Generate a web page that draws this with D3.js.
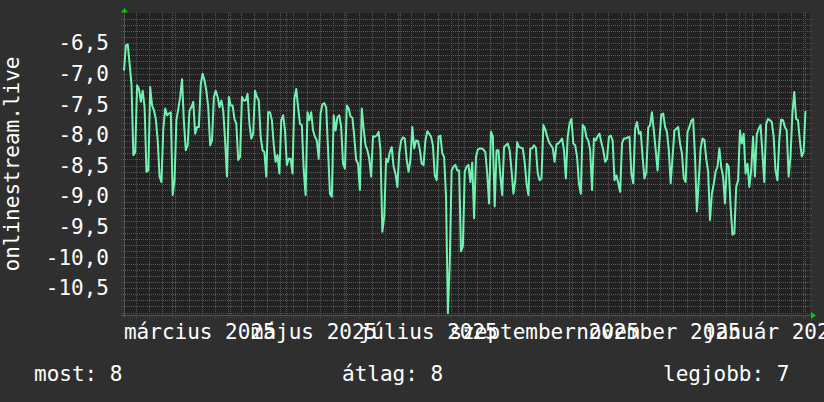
<!DOCTYPE html>
<html>
<head>
<meta charset="utf-8">
<script src="https://cdn.jsdelivr.net/npm/d3@7"></script>
<style>
    body { margin: 0; background: #2f2f2f; }
    text { font-family: "DejaVu Sans Mono", monospace; }
</style>
</head>
<body>
<svg id="chart" width="824" height="402"></svg>
<script>
// daily values, first day 2025-02-03 (noon)
const firstDay = new Date(2025, 1, 3, 12);
const rankValues = [
    -6.95, -6.54, -6.52, -6.84, -7.17, -8.33, -8.28, -7.19, -7.25, -7.46,
    -7.28, -7.55, -8.60, -8.58, -7.22, -7.52, -7.60, -7.74, -8.09, -8.68,
    -8.77, -7.90, -7.57, -7.68, -7.65, -7.63, -8.98, -8.74, -7.76, -7.57,
    -7.38, -7.09, -7.79, -8.25, -8.17, -7.60, -7.55, -7.46, -7.98, -7.87,
    -7.87, -7.17, -7.00, -7.11, -7.28, -7.55, -8.17, -8.09, -7.38, -7.28,
    -7.38, -7.55, -7.44, -7.60, -8.09, -8.68, -7.38, -7.52, -7.52, -7.74,
    -7.82, -8.41, -8.36, -7.38, -7.44, -7.44, -7.33, -7.82, -8.06, -7.98,
    -7.28, -7.38, -7.44, -8.03, -8.25, -8.28, -8.68, -7.63, -7.63, -7.76,
    -8.17, -8.44, -8.33, -8.63, -7.76, -7.68, -7.93, -8.49, -8.39, -8.39,
    -8.63, -7.41, -7.25, -7.55, -7.82, -7.84, -8.58, -8.98, -7.63, -7.76,
    -7.63, -7.93, -8.03, -8.09, -8.39, -7.65, -7.50, -7.48, -7.55, -8.25,
    -8.96, -9.01, -7.68, -7.93, -7.71, -7.68, -7.87, -8.47, -8.55, -7.52,
    -7.57, -7.70, -7.72, -8.03, -8.41, -8.47, -8.90, -7.57, -7.90, -8.17,
    -8.25, -8.39, -8.68, -8.02, -8.03, -8.01, -7.95, -8.25, -9.58, -9.33,
    -8.39, -8.44, -8.28, -8.20, -8.52, -8.63, -8.85, -8.30, -8.10, -8.04,
    -8.06, -8.41, -8.60, -8.41, -7.87, -8.22, -8.09, -8.10, -8.24, -8.47,
    -8.49, -8.09, -7.94, -7.98, -8.03, -8.17, -8.66, -8.74, -8.03, -8.01,
    -8.30, -8.36, -9.01, -10.91, -10.09, -8.58, -8.52, -8.49, -8.58, -8.58,
    -9.90, -9.82, -8.60, -8.52, -8.49, -8.77, -8.45, -9.36, -8.36, -8.24,
    -8.22, -8.22, -8.24, -8.28, -8.63, -9.12, -7.95, -8.02, -9.17, -8.25,
    -8.25, -8.66, -8.98, -8.20, -8.17, -8.14, -8.25, -8.58, -8.96, -8.74,
    -8.12, -8.20, -8.21, -8.22, -8.44, -8.79, -8.98, -8.22, -8.22, -8.17,
    -8.21, -8.63, -8.74, -8.71, -7.84, -7.91, -8.02, -8.12, -8.17, -8.21,
    -8.44, -8.15, -8.14, -8.10, -8.06, -8.25, -8.71, -8.03, -7.81, -7.74,
    -8.14, -8.17, -8.36, -8.79, -8.96, -7.84, -7.87, -8.04, -8.09, -8.25,
    -8.90, -8.06, -8.09, -8.02, -7.98, -8.13, -8.25, -8.44, -8.39, -8.03,
    -8.01, -8.09, -8.74, -8.66, -8.79, -8.93, -8.14, -8.06, -8.06, -8.04,
    -8.03, -8.63, -8.79, -7.90, -7.79, -7.98, -7.95, -8.36, -8.71, -8.60,
    -7.88, -7.84, -7.63, -7.93, -8.25, -8.58, -8.09, -7.67, -7.65, -7.87,
    -7.95, -8.25, -8.79, -8.36, -7.93, -7.90, -7.87, -8.14, -8.30, -8.71,
    -8.77, -7.95, -7.87, -7.77, -7.74, -8.36, -9.25, -8.74, -8.22, -8.06,
    -8.08, -8.39, -8.60, -9.39, -8.96, -8.80, -8.60, -8.52, -8.22, -8.53,
    -8.68, -9.12, -8.47, -8.52, -9.17, -9.63, -9.61, -8.85, -8.74, -7.93,
    -8.14, -7.98, -8.63, -8.47, -8.85, -8.58, -8.03, -8.68, -7.99, -7.90,
    -7.84, -8.30, -8.77, -7.82, -7.74, -7.76, -7.79, -8.03, -8.58, -8.74,
    -8.09, -7.75, -7.76, -7.87, -7.93, -8.68, -8.36, -7.65, -7.30, -7.74,
    -7.76, -8.09, -8.35, -8.28, -7.61
];

const yTicks = [-6.5, -7.0, -7.5, -8.0, -8.5, -9.0, -9.5, -10.0, -10.5];
const yTickLabels = ["-6,5", "-7,0", "-7,5", "-8,0", "-8,5", "-9,0", "-9,5", "-10,0", "-10,5"];

const monthLabels = ["március 2025", "május 2025", "július 2025", "szeptember 2025", "november 2025", "január 2026"];
const monthLabelDates = [
    new Date(2025, 2, 16), new Date(2025, 4, 16), new Date(2025, 6, 16),
    new Date(2025, 8, 16), new Date(2025, 10, 16), new Date(2026, 0, 16)
];

const legendNames = ["most", "átlag", "legjobb"];
const legendValues = [8, 8, 7];

const yTitle = "onlinestream.live";

const svgWidth = 824;
const svgHeight = 402;
const plot = { left: 124, top: 13, right: 810, bottom: 315 };
const lineColor = "#70f2b2";
const textColor = "#ffffff";

const data = rankValues.map((v, i) => ({ date: d3.timeDay.offset(firstDay, i), value: v }));

const svg = d3.select("#chart");

svg.append("rect")
    .attr("width", svgWidth)
    .attr("height", svgHeight)
    .attr("fill", "#2f2f2f");

svg.append("rect")
    .attr("x", plot.left)
    .attr("y", plot.top)
    .attr("width", plot.right - plot.left)
    .attr("height", plot.bottom - plot.top)
    .attr("fill", "#222222");

const xScale = d3.scaleTime()
    .domain([new Date(2025, 1, 3, 12), new Date(2026, 1, 4, 22)])
    .range([plot.left, plot.right]);

const yScale = d3.scaleLinear()
    .domain([-10.94, -6.01])
    .range([plot.bottom, plot.top]);

// minor grid: every 0.1 and every monday
const minorY = d3.range(-109, -60).map(d => d / 10).filter(d => Math.round(d * 10) % 5 !== 0);
const minorX = d3.timeMonday.range(xScale.domain()[0], xScale.domain()[1]);
const majorX = d3.timeMonth.range(xScale.domain()[0], xScale.domain()[1]);

const grid = svg.append("g");

grid.selectAll(".minor-h")
    .data(minorY)
    .enter().append("line")
    .attr("x1", plot.left - 3)
    .attr("x2", plot.right + 2)
    .attr("y1", d => Math.round(yScale(d)) + 0.5)
    .attr("y2", d => Math.round(yScale(d)) + 0.5)
    .attr("stroke", "#575757")
    .attr("stroke-dasharray", "1,1");

grid.selectAll(".minor-v")
    .data(minorX)
    .enter().append("line")
    .attr("x1", d => Math.round(xScale(d)) + 0.5)
    .attr("x2", d => Math.round(xScale(d)) + 0.5)
    .attr("y1", plot.top)
    .attr("y2", plot.bottom + 3)
    .attr("stroke", "#575757")
    .attr("stroke-dasharray", "1,1");

grid.selectAll(".major-h")
    .data(yTicks)
    .enter().append("line")
    .attr("x1", plot.left - 3)
    .attr("x2", plot.right + 2)
    .attr("y1", d => Math.round(yScale(d)) + 0.5)
    .attr("y2", d => Math.round(yScale(d)) + 0.5)
    .attr("stroke", "#9a3434")
    .attr("stroke-dasharray", "1,1");

grid.selectAll(".major-v")
    .data(majorX)
    .enter().append("line")
    .attr("x1", d => Math.round(xScale(d)) + 0.5)
    .attr("x2", d => Math.round(xScale(d)) + 0.5)
    .attr("y1", plot.top)
    .attr("y2", plot.bottom + 3)
    .attr("stroke", "#9a3434")
    .attr("stroke-dasharray", "1,1");

// axis lines
svg.append("line")
    .attr("x1", plot.left - 3).attr("x2", plot.right + 2)
    .attr("y1", plot.bottom + 0.5).attr("y2", plot.bottom + 0.5)
    .attr("stroke", "#555555");

svg.append("line")
    .attr("x1", plot.left + 0.5).attr("x2", plot.left + 0.5)
    .attr("y1", plot.top - 2).attr("y2", plot.bottom + 3)
    .attr("stroke", "#555555");

// arrows
svg.append("path")
    .attr("d", `M${plot.left - 3},${plot.top - 0.5}L${plot.left + 0.5},${plot.top - 5}L${plot.left + 4},${plot.top - 0.5}Z`)
    .attr("fill", "#00cc00");

svg.append("path")
    .attr("d", `M${plot.right + 1},${plot.bottom - 3}L${plot.right + 6},${plot.bottom + 0.5}L${plot.right + 1},${plot.bottom + 4}Z`)
    .attr("fill", "#00cc00");

// y labels
svg.append("g")
    .attr("transform", `translate(${plot.left},0)`)
    .call(d3.axisLeft(yScale).tickValues(yTicks).tickSize(0).tickPadding(15)
        .tickFormat((d, i) => yTickLabels[i]))
    .call(g => g.select(".domain").remove())
    .selectAll("text")
    .attr("fill", textColor)
    .attr("font-size", "21px")
    .attr("font-family", "DejaVu Sans Mono, monospace");

// x labels
svg.append("g")
    .selectAll("text")
    .data(monthLabels)
    .enter().append("text")
    .attr("x", (d, i) => xScale(monthLabelDates[i]))
    .attr("y", 339)
    .attr("text-anchor", "middle")
    .attr("fill", textColor)
    .attr("font-size", "21px")
    .text(d => d);

// y title
svg.append("text")
    .attr("transform", "translate(19,164) rotate(-90)")
    .attr("text-anchor", "middle")
    .attr("fill", textColor)
    .attr("font-size", "21px")
    .text(yTitle);

// series line
const line = d3.line()
    .x(d => xScale(d.date))
    .y(d => yScale(d.value));

svg.append("path")
    .datum(data)
    .attr("fill", "none")
    .attr("stroke", lineColor)
    .attr("stroke-width", 2)
    .attr("stroke-linejoin", "round")
    .attr("d", line);

// legend
const legendX = [34, 342, 663];
svg.append("g")
    .selectAll("text")
    .data(legendNames)
    .enter().append("text")
    .attr("x", (d, i) => legendX[i])
    .attr("y", 381)
    .attr("fill", textColor)
    .attr("font-size", "21px")
    .text((d, i) => `${d}: ${legendValues[i]}`);
</script>
</body>
</html>
